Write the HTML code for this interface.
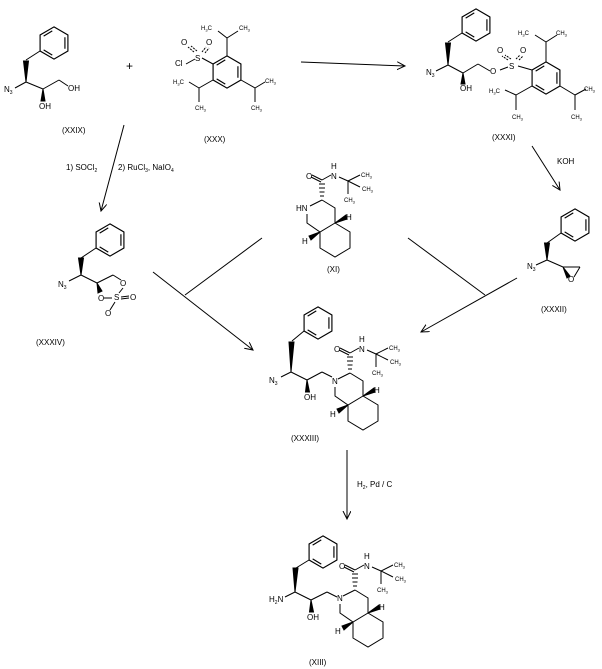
<!DOCTYPE html>
<html><head><meta charset="utf-8"><style>
html,body{margin:0;padding:0;background:#fff;}
svg{display:block;}
text{font-family:"Liberation Sans",sans-serif;font-size:8px;fill:#000;}
.s{font-size:5px;}
.m{font-size:6px;}
.m .s{font-size:4px;}
.lbl{font-size:8px;}
</style></head><body>
<svg width="602" height="669" viewBox="0 0 602 669" xmlns="http://www.w3.org/2000/svg">
<defs>
<marker id="ah" markerWidth="10" markerHeight="10" refX="8" refY="4" orient="auto" markerUnits="userSpaceOnUse">
<path d="M0,0 L8,4 L0,8" fill="none" stroke="#000" stroke-width="1"/>
</marker>
</defs>
<g stroke="#000" stroke-width="1" fill="none">

<!-- XXIX -->
<g transform="translate(54,43) scale(1.15)"><polygon points="0,-14 12.1,-7 12.1,7 0,14 -12.1,7 -12.1,-7"/><path d="M9.5,-5V5M-1.5,10.5L-9,6M-9,-6L-1.5,-10.5"/></g>
<path d="M40,51L26,60M26,82L15,88M26,82L43,89M43,89L59,80M59,80L68,86"/>
<polygon points="26,82 23.5,61 28.5,61" fill="#000"/>
<polygon points="43,89 41,101 45,101" fill="#000"/>

<!-- XXX -->
<g transform="translate(227,72) scale(1.15)"><polygon points="0,-14 12.1,-7 12.1,7 0,14 -12.1,7 -12.1,-7"/><path d="M9.5,-5V5M-1.5,10.5L-9,6M-9,-6L-1.5,-10.5"/></g>
<path d="M213,64L202,58M186,64L195,59M227,56L227,38M227,38L218,31M227,38L238,31M213,80L199,88M199,88L189,82M199,88L199,102M241,80L255,88M255,88L265,82M255,88L255,102"/>
<path d="M194,52L188,47M197,51L191,46M202,52L206,47M205,53L209,48" stroke-dasharray="2,1"/>

<!-- XXXI -->
<g transform="translate(476,25) scale(1.15)"><polygon points="0,-14 12.1,-7 12.1,7 0,14 -12.1,7 -12.1,-7"/><path d="M9.5,-5V5M-1.5,10.5L-9,6M-9,-6L-1.5,-10.5"/></g>
<path d="M462,33L448,42M448,65L436,71M448,65L463,73M463,73L478,64M478,64L490,71M500,70L508,67M518,66L532,70"/>
<polygon points="448,65 445.5,43 450.5,43" fill="#000"/>
<polygon points="463,73 461,84 465,84" fill="#000"/>
<path d="M508,60L502,56M511,59L505,55M516,59L520,55M519,60L523,56" stroke-dasharray="2,1"/>
<g transform="translate(546,78) scale(1.15)"><polygon points="0,-14 12.1,-7 12.1,7 0,14 -12.1,7 -12.1,-7"/><path d="M9.5,-5V5M-1.5,10.5L-9,6M-9,-6L-1.5,-10.5"/></g>
<path d="M546,62L546,42M546,42L535,35M546,42L557,35M532,86L516,95M516,95L505,90M516,95L516,110M560,86L575,95M575,95L586,89M575,95L575,110"/>

<!-- XXXIV -->
<g transform="translate(110,240) scale(1.15)"><polygon points="0,-14 12.1,-7 12.1,7 0,14 -12.1,7 -12.1,-7"/><path d="M9.5,-5V5M-1.5,10.5L-9,6M-9,-6L-1.5,-10.5"/></g>
<path d="M96,248L81,258M81,275L69,281M81,275L97,283M97,283L113,275M113,275L121,280M123,288L119,293M104,298L112,298M121,297L129,296M121,299L129,298M115,302L110,310"/>
<polygon points="81,275 78.5,258 83.5,258" fill="#000"/>
<polygon points="97,283 98,293 102,291" fill="#000"/>

<!-- XXXII -->
<g transform="translate(575,225) scale(1.15)"><polygon points="0,-14 12.1,-7 12.1,7 0,14 -12.1,7 -12.1,-7"/><path d="M9.5,-5V5M-1.5,10.5L-9,6M-9,-6L-1.5,-10.5"/></g>
<path d="M561,233L547,243M547,260L536,265M547,260L563,267M563,267L580,267M580,267L574,277"/>
<polygon points="547,260 544.5,243 549.5,243" fill="#000"/>
<polygon points="563,267 567,278 570,276" fill="#000"/>

<!-- XI -->
<g transform="translate(322,200)">
<path d="M0,-20L-10,-25M-1,-18L-11,-23M0,-20L9,-25M17,-23L26,-19M26,-19L38,-25M26,-19L38,-13M26,-19L26,-6M0,0L13,8L13,23L-2,32L-15,23L-15,14M-12,6L0,0M13,23L28,32L28,48L13,57L-2,48L-2,32"/>
<path d="M-2,-4H2M-2.5,-8H2.5M-3,-12H3M-3,-16H3" />
<polygon points="13,23 24,15 25,19" fill="#000"/>
<polygon points="-2,32 -13,36 -11,40" fill="#000"/>
</g>

<!-- XXXIII -->
<g transform="translate(350,373)">
<path d="M0,-20L-10,-25M-1,-18L-11,-23M0,-20L9,-25M17,-23L26,-19M26,-19L38,-25M26,-19L38,-13M26,-19L26,-6M0,0L13,8L13,23L-2,32L-15,23L-15,14M-12,6L0,0M13,23L28,32L28,48L13,57L-2,48L-2,32"/>
<path d="M-2,-4H2M-2.5,-8H2.5M-3,-12H3M-3,-16H3"/>
<polygon points="13,23 24,15 25,19" fill="#000"/>
<polygon points="-2,32 -13,36 -11,40" fill="#000"/>
</g>
<g transform="translate(318,323) scale(1.15)"><polygon points="0,-14 12.1,-7 12.1,7 0,14 -12.1,7 -12.1,-7"/><path d="M9.5,-5V5M-1.5,10.5L-9,6M-9,-6L-1.5,-10.5"/></g>
<path d="M304,331L292,341M291,372L281,377M291,372L307,380M307,380L322,372M322,372L332,377"/>
<polygon points="291,372 289,342 294,342" fill="#000"/>
<polygon points="307,380 305.5,392 309.5,392" fill="#000"/>

<!-- XIII -->
<g transform="translate(355,590)">
<path d="M0,-20L-10,-25M-1,-18L-11,-23M0,-20L9,-25M17,-23L26,-19M26,-19L38,-25M26,-19L38,-13M26,-19L26,-6M0,0L13,8L13,23L-2,32L-15,23L-15,14M-12,6L0,0M13,23L28,32L28,48L13,57L-2,48L-2,32"/>
<path d="M-2,-4H2M-2.5,-8H2.5M-3,-12H3M-3,-16H3"/>
<polygon points="13,23 24,15 25,19" fill="#000"/>
<polygon points="-2,32 -13,36 -11,40" fill="#000"/>
</g>
<g transform="translate(323,552) scale(1.15)"><polygon points="0,-14 12.1,-7 12.1,7 0,14 -12.1,7 -12.1,-7"/><path d="M9.5,-5V5M-1.5,10.5L-9,6M-9,-6L-1.5,-10.5"/></g>
<path d="M309,560L296,568M295,592L285,597M295,592L311,600M311,600L327,592M327,592L337,597"/>
<polygon points="295,592 293,568 298,568" fill="#000"/>
<polygon points="311,600 309.5,612 313.5,612" fill="#000"/>

<!-- arrows -->
<path d="M301,62L405,66" marker-end="url(#ah)"/>
<path d="M124,125L101,211" marker-end="url(#ah)"/>
<path d="M532,146L560,190" marker-end="url(#ah)"/>
<path d="M153,272L253,350" marker-end="url(#ah)"/>
<path d="M262,238L185,295"/>
<path d="M408,238L485,295"/>
<path d="M517,278L421,332" marker-end="url(#ah)"/>
<path d="M347,450L347,519" marker-end="url(#ah)"/>
</g>

<!-- text -->
<g>
<text x="4" y="92">N<tspan class="s" dy="2">3</tspan></text>
<text x="39" y="109">OH</text>
<text x="68" y="91">OH</text>
<text x="126" y="70" style="font-size:12px">+</text>
<text x="62" y="133" class="lbl">(XXIX)</text>

<text x="195" y="61">S</text>
<text x="175" y="66">Cl</text>
<text x="181" y="45">O</text>
<text x="206" y="45">O</text>
<text class="m" x="201" y="30">H<tspan class="s" dy="1.5">3</tspan><tspan dy="-1.5">C</tspan></text>
<text class="m" x="239" y="30">CH<tspan class="s" dy="1.5">3</tspan></text>
<text class="m" x="173" y="84">H<tspan class="s" dy="1.5">3</tspan><tspan dy="-1.5">C</tspan></text>
<text class="m" x="195" y="110">CH<tspan class="s" dy="1.5">3</tspan></text>
<text class="m" x="265" y="83">CH<tspan class="s" dy="1.5">3</tspan></text>
<text class="m" x="251" y="110">CH<tspan class="s" dy="1.5">3</tspan></text>
<text x="204" y="142" class="lbl">(XXX)</text>

<text x="426" y="75">N<tspan class="s" dy="2">3</tspan></text>
<text x="460" y="91">OH</text>
<text x="490" y="74">O</text>
<text x="509" y="69">S</text>
<text x="497" y="53">O</text>
<text x="520" y="53">O</text>
<text class="m" x="518" y="35">H<tspan class="s" dy="1.5">3</tspan><tspan dy="-1.5">C</tspan></text>
<text class="m" x="556" y="35">CH<tspan class="s" dy="1.5">3</tspan></text>
<text class="m" x="489" y="93">H<tspan class="s" dy="1.5">3</tspan><tspan dy="-1.5">C</tspan></text>
<text class="m" x="512" y="119">CH<tspan class="s" dy="1.5">3</tspan></text>
<text class="m" x="584" y="91">CH<tspan class="s" dy="1.5">3</tspan></text>
<text class="m" x="571" y="119">CH<tspan class="s" dy="1.5">3</tspan></text>
<text x="492" y="140" class="lbl">(XXXI)</text>

<text x="66" y="170" class="lbl">1) SOCl<tspan class="s" dy="2">2</tspan></text>
<text x="118" y="170" class="lbl">2) RuCl<tspan class="s" dy="2">3</tspan><tspan dy="-2">, NaIO</tspan><tspan class="s" dy="2">4</tspan></text>
<text x="557" y="164" class="lbl">KOH</text>

<text x="58" y="287">N<tspan class="s" dy="2">3</tspan></text>
<text x="120" y="286">O</text>
<text x="114" y="300">S</text>
<text x="98" y="301">O</text>
<text x="130" y="300">O</text>
<text x="105" y="316">O</text>
<text x="36" y="345" class="lbl">(XXXIV)</text>

<text x="527" y="269">N<tspan class="s" dy="2">3</tspan></text>
<text x="568" y="282">O</text>
<text x="541" y="312" class="lbl">(XXXII)</text>

<!-- XI text -->
<g transform="translate(322,200)">
<text x="-16" y="-21">O</text>
<text x="9" y="-21">N</text>
<text x="9" y="-31">H</text>
<text class="m" x="39" y="-23">CH<tspan class="s" dy="1.5">3</tspan></text>
<text class="m" x="40" y="-9">CH<tspan class="s" dy="1.5">3</tspan></text>
<text class="m" x="22" y="2">CH<tspan class="s" dy="1.5">3</tspan></text>
<text x="-26" y="11">HN</text>
<text x="24" y="20">H</text>
<text x="-20" y="44">H</text>
<text x="5" y="72" class="lbl">(XI)</text>
</g>

<!-- XXXIII text -->
<g transform="translate(350,373)">
<text x="-16" y="-21">O</text>
<text x="9" y="-21">N</text>
<text x="9" y="-31">H</text>
<text class="m" x="39" y="-23">CH<tspan class="s" dy="1.5">3</tspan></text>
<text class="m" x="40" y="-9">CH<tspan class="s" dy="1.5">3</tspan></text>
<text class="m" x="22" y="2">CH<tspan class="s" dy="1.5">3</tspan></text>
<text x="-18" y="11">N</text>
<text x="24" y="20">H</text>
<text x="-20" y="44">H</text>
</g>
<text x="269" y="383">N<tspan class="s" dy="2">3</tspan></text>
<text x="304" y="400">OH</text>
<text x="291" y="441" class="lbl">(XXXIII)</text>

<text x="357" y="487" class="lbl">H<tspan class="s" dy="2">2</tspan><tspan dy="-2">, Pd / C</tspan></text>

<!-- XIII text -->
<g transform="translate(355,590)">
<text x="-16" y="-21">O</text>
<text x="9" y="-21">N</text>
<text x="9" y="-31">H</text>
<text class="m" x="39" y="-23">CH<tspan class="s" dy="1.5">3</tspan></text>
<text class="m" x="40" y="-9">CH<tspan class="s" dy="1.5">3</tspan></text>
<text class="m" x="22" y="2">CH<tspan class="s" dy="1.5">3</tspan></text>
<text x="-18" y="11">N</text>
<text x="24" y="20">H</text>
<text x="-20" y="44">H</text>
</g>
<text x="269" y="602">H<tspan class="s" dy="2">2</tspan><tspan dy="-2">N</tspan></text>
<text x="307" y="620">OH</text>
<text x="309" y="665" class="lbl">(XIII)</text>
</g>
</svg>
</body></html>
